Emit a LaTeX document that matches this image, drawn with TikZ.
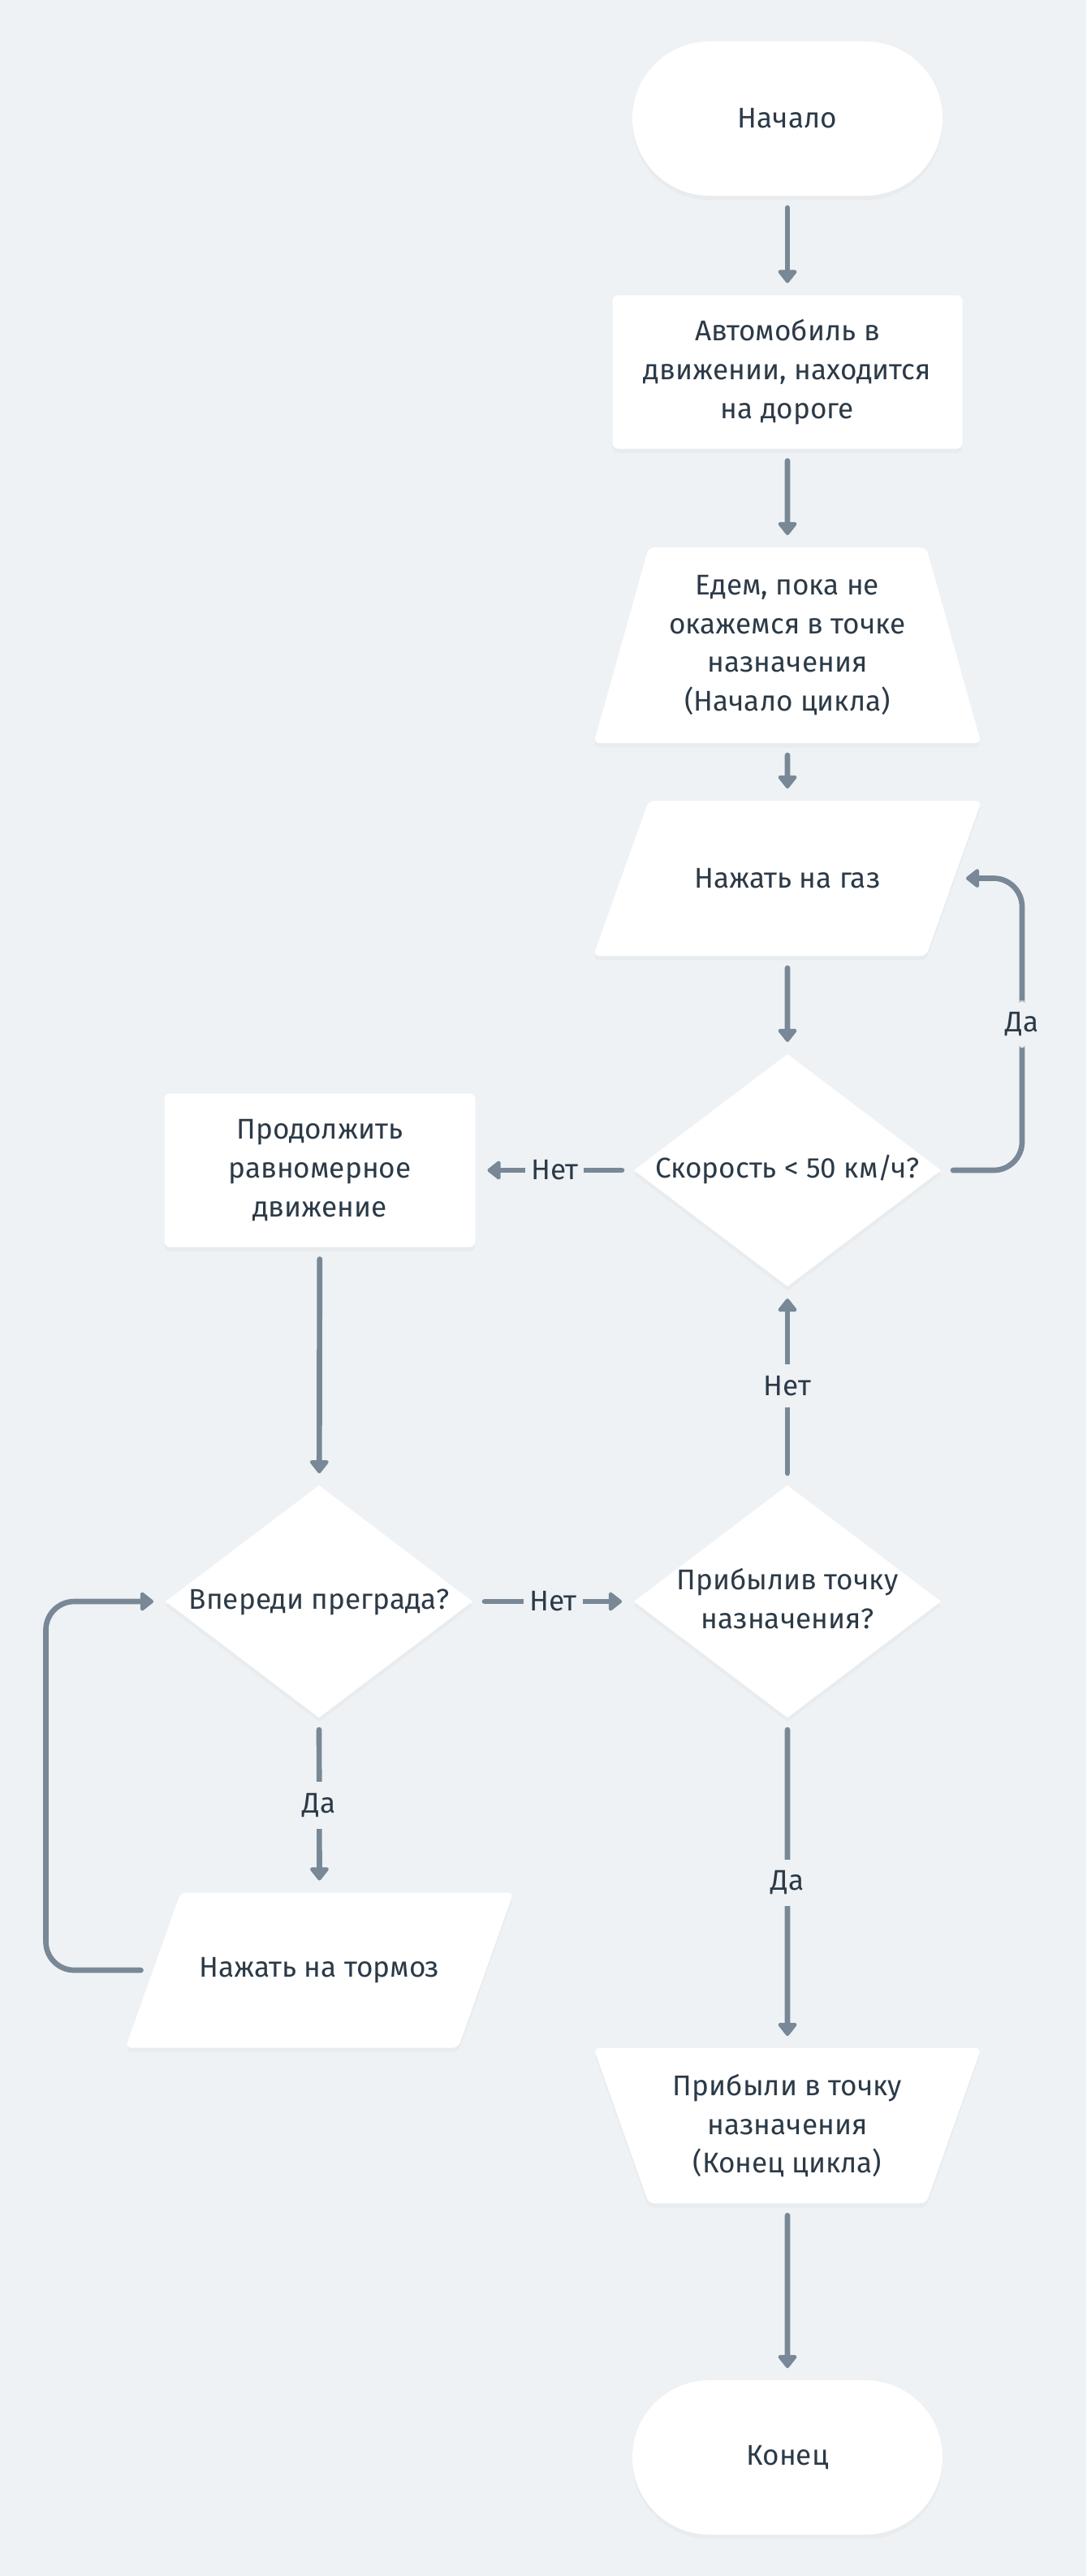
\documentclass[tikz,border=0pt]{standalone}
\usepackage{fontspec}
\setmainfont{Fira Sans}
\usepackage{xcolor}
\usepackage{tikz}
\usetikzlibrary{shapes,arrows,positioning,calc,arrows.meta,shadows}

\definecolor{bgc}{HTML}{EEF2F5}
\definecolor{linec}{HTML}{788896}
\definecolor{textc}{HTML}{2C3A47}

% text of a decision, kept out of the diamond's size
\newcommand{\dtext}[1]{\makebox[0pt]{\begin{tabular}{@{}c@{}}#1\end{tabular}}}
% text box of a slanted block: height, then text
\newcommand{\slbox}[2]{\parbox[c][#1][c]{3.42cm}{\centering #2}}

\tikzset{
  block/.style={fill=white, text=textc, align=center, inner sep=1pt, outer sep=0pt,
    font=\fontsize{10}{13.6}\selectfont,
    drop shadow={shadow xshift=0pt, shadow yshift=-1.5pt, opacity=0.05}},
  terminal/.style={block, rectangle, rounded corners=0.95cm, minimum width=3.82cm, minimum height=1.9cm},
  process/.style={block, rectangle, rounded corners=2pt, minimum width=4.31cm, minimum height=1.89cm},
  decision/.style={block, diamond, inner sep=0pt, minimum width=3.78cm, minimum height=2.86cm},
  slanted/.style={block, trapezium, inner sep=0pt, rounded corners=2pt},
  loopstart/.style={slanted, trapezium left angle=74.35, trapezium right angle=74.35},
  loopend/.style={slanted, trapezium left angle=109.5, trapezium right angle=109.5},
  inout/.style={slanted, trapezium left angle=70.4, trapezium right angle=109.6},
  flow/.style={draw=linec, line width=1.9pt, line cap=round, -{Triangle[width=7.5pt,length=5pt,round]},
    shorten <=0.15cm, shorten >=0.15cm},
  lbl/.style={fill=bgc, text=textc, inner xsep=2pt, inner ysep=4pt, font=\fontsize{10}{12}\selectfont}
}

\begin{document}
\begin{tikzpicture}
    \fill[bgc] (0,0) rectangle (13.38,-31.72);
    \useasboundingbox (0,0) rectangle (13.38,-31.72);

    % Right column
    \node[terminal] (start) at (9.70,-1.46) {Начало};
    \node[process] (car) at (9.70,-4.58) {Автомобиль в\\движении, находится\\на дороге};
    \node[loopstart] (trip) at (9.70,-7.945) {\slbox{2.41cm}{Едем, пока не\\окажемся в точке\\назначения\\(Начало цикла)}};
    \node[inout] (gas) at (9.70,-10.815) {\slbox{1.91cm}{Нажать на газ}};
    \node[decision] (speed) at (9.70,-14.41) {\dtext{Скорость < 50 км/ч?}};
    \node[decision] (arrived) at (9.70,-19.72) {\dtext{Прибылив точку\\назначения?}};
    \node[loopend] (finish) at (9.70,-26.175) {\slbox{1.91cm}{Прибыли в точку\\назначения\\(Конец цикла)}};
    \node[terminal] (stop) at (9.70,-30.26) {Конец};

    % Left column
    \node[process, minimum width=3.83cm] (keep) at (3.94,-14.41) {Продолжить\\равномерное\\движение};
    \node[decision] (obst) at (3.93,-19.72) {\dtext{Впереди преграда?}};
    \node[inout] (brake) at (3.935,-24.26) {\slbox{1.91cm}{Нажать на тормоз}};

    % Connectors
    \draw[flow] (start) -- (car);
    \draw[flow] (car) -- (trip);
    \draw[flow] (trip) -- (gas);
    \draw[flow] (gas) -- (speed);
    \draw[flow, rounded corners=0.35cm] (speed.east) -- ++(1.0,0) |- (gas.right side) node[lbl, pos=0.25] {Да};
    \draw[flow] (speed.west) -- (keep.east) node[lbl, midway] {Нет};
    \draw[flow] (keep) -- (obst);
    \draw[flow] (obst.east) -- (arrived.west) node[lbl, midway] {Нет};
    \draw[flow] (arrived.north) -- (speed.south) node[lbl, midway] {Нет};
    \draw[flow] (obst.south) -- (brake.north) node[lbl, midway] {Да};
    \draw[flow, rounded corners=0.35cm] (brake.left side) -- ++(-1.32,0) |- (obst.west);
    \draw[flow] (arrived.south) -- (finish.north) node[lbl, midway] {Да};
    \draw[flow] (finish) -- (stop);
\end{tikzpicture}
\end{document}
